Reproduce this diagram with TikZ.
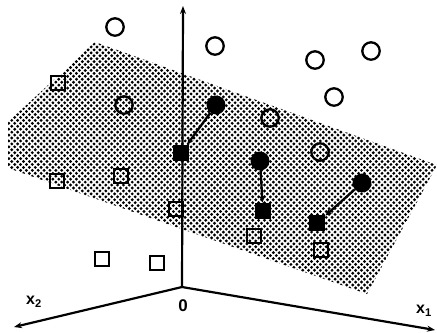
\documentclass[tikz,border=0pt]{standalone}
\usepackage{fontspec}
\setmainfont{Liberation Sans}
\usetikzlibrary{arrows.meta,patterns}
\pgfdeclarepatternformonly{mydots}{\pgfqpoint{-1.8pt}{-1.8pt}}{\pgfqpoint{4.8pt}{4.8pt}}{\pgfqpoint{5.9pt}{5.9pt}}{%
  \pgfpathcircle{\pgfqpoint{0pt}{0pt}}{1.6pt}%
  \pgfpathcircle{\pgfqpoint{2.95pt}{2.95pt}}{1.6pt}%
  \pgfusepath{fill}}
\tikzset{
  ocirc/.style={circle,draw,line width=2.3pt,minimum size=17.5pt,inner sep=0pt},
  fcirc/.style={circle,fill,minimum size=19pt,inner sep=0pt},
  osq/.style={rectangle,draw,line width=2.3pt,minimum size=14pt,inner sep=0pt},
  fsq/.style={rectangle,fill,minimum size=16.5pt,inner sep=0pt},
  axis/.style={line width=2.2pt,-{Stealth[length=8pt,width=6pt]}},
  arr/.style={line width=2.3pt,-{Stealth[length=7pt,width=6pt]}},
  lab/.style={font=\bfseries\fontsize{16}{16}\selectfont,inner sep=0pt}
}
\begin{document}
\begin{tikzpicture}[x=1bp,y=-1bp]
\useasboundingbox (0,0) rectangle (437,332);
% plane
\fill[pattern=mydots] (95,42) -- (437,165) -- (367,294) -- (8,168) -- (8,122) -- cycle;
% axes
\coordinate (O) at (182,287);
\coordinate (zt) at (183,6);
\coordinate (x2e) at (14,327);
\coordinate (x1e) at (435,330);
\draw[axis] (O) -- (zt);
\draw[axis] (O) -- (x2e);
\draw[axis] (O) -- (x1e);
\node[lab] (lx2) at (34,302) {x\textsubscript{2}};
\node[lab] (lx1) at (424,311) {x\textsubscript{1}};
\node[font=\bfseries\fontsize{17}{17}\selectfont,inner sep=0pt] (l0) at (183,306) {0};
% open circles
\node[ocirc] (c1) at (115,27) {};
\node[ocirc] (c2) at (215,46) {};
\node[ocirc] (c3) at (315,60) {};
\node[ocirc] (c4) at (371,51) {};
\node[ocirc] (c5) at (334,97) {};
\node[ocirc] (c6) at (124,105) {};
\node[ocirc] (c7) at (270,118) {};
\node[ocirc] (c8) at (320,152) {};
% open squares
\node[osq] (s1) at (58,83) {};
\node[osq] (s2) at (57,181) {};
\node[osq] (s3) at (121,176) {};
\node[osq] (s4) at (176,209) {};
\node[osq] (s5) at (102,259) {};
\node[osq] (s6) at (157,263) {};
\node[osq] (s7) at (254,236) {};
\node[osq] (s8) at (321,250) {};
% filled circles
\node[fcirc] (f1) at (216,105) {};
\node[fcirc] (f2) at (260,161) {};
\node[fcirc] (f3) at (362,183) {};
% filled squares
\node[fsq] (q1) at (181,153) {};
\node[fsq] (q2) at (263,211) {};
\node[fsq] (q3) at (317,223) {};
% projections
\draw[arr] (f1) -- (q1);
\draw[arr] (f2) -- (q2);
\draw[arr] (f3) -- (q3);
\end{tikzpicture}
\end{document}
